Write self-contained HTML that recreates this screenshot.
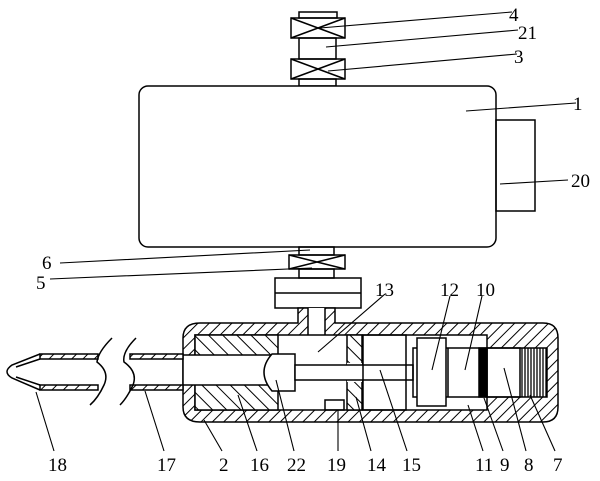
<!DOCTYPE html>
<html><head><meta charset="utf-8"><style>
html,body{margin:0;padding:0;background:#fff;}
svg{display:block;}
text{font-family:"Liberation Serif",serif;font-size:19px;fill:#000;}
</style></head><body>
<svg width="600" height="481" viewBox="0 0 600 481" xmlns="http://www.w3.org/2000/svg">
<defs>
<pattern id="h" patternUnits="userSpaceOnUse" width="8" height="8" patternTransform="rotate(45)">
<rect width="8" height="8" fill="#fff"/><line x1="0" y1="0" x2="0" y2="8" stroke="#000" stroke-width="2"/></pattern>
<pattern id="h2" patternUnits="userSpaceOnUse" width="10" height="10" patternTransform="rotate(-45)">
<rect width="10" height="10" fill="#fff"/><line x1="0" y1="0" x2="0" y2="10" stroke="#000" stroke-width="2"/></pattern>
</defs>
<g fill="none" stroke="#000" stroke-width="1.5">
<!-- top -->
<rect x="299" y="12" width="38" height="6"/>
<rect x="291" y="18" width="54" height="20"/><path d="M291 18L345 38M345 18L291 38"/>
<rect x="299" y="38" width="37" height="21"/>
<rect x="291" y="59" width="54" height="20"/><path d="M291 59L345 79M345 59L291 79"/>
<rect x="299" y="79" width="37" height="7"/>
<rect x="139" y="86" width="357" height="161" rx="9" fill="#fff"/>
<rect x="496" y="120" width="39" height="91"/>
<rect x="299" y="247" width="35" height="8"/>
<rect x="289" y="255" width="56" height="14"/><path d="M289 255L345 269M345 255L289 269"/>
<rect x="299" y="269" width="35" height="9"/>
<rect x="275" y="278" width="86" height="30"/><line x1="275" y1="293" x2="361" y2="293"/>
<!-- housing -->
<path d="M200 323H298V308H335V323H543Q558 323 558 338V407Q558 422 543 422H200Q183 422 183 407V338Q183 323 200 323Z" fill="url(#h)"/>
<rect x="308" y="308" width="17" height="28" fill="#fff" stroke="none"/>
<line x1="308" y1="308" x2="308" y2="335"/><line x1="325" y1="308" x2="325" y2="335"/>
<path d="M195 335H487V348H547V397H487V410H195Z" fill="#fff"/>
<rect x="195" y="335" width="83" height="75" fill="url(#h2)"/>
<rect x="183" y="355" width="96" height="30" fill="#fff"/>
<path d="M272 354H295V391H272Q256 372 272 354Z" fill="#fff"/>
<rect x="347" y="335" width="15" height="75" fill="url(#h2)"/>
<rect x="347" y="363" width="15" height="19" fill="#fff" stroke="none"/>
<rect x="295" y="365" width="118" height="15" fill="#fff"/>
<rect x="363" y="335" width="43" height="75"/>
<rect x="325" y="400" width="19" height="10"/>
<rect x="413" y="348" width="74" height="49"/>
<rect x="417" y="338" width="29" height="68" fill="#fff"/>
<line x1="448" y1="348" x2="448" y2="397"/>
<rect x="479" y="348" width="8" height="49" fill="#000"/>
<rect x="487" y="348" width="33" height="49"/>
<g stroke-width="1.3"><path d="M522 348V397M525 348V397M528 348V397M531 348V397M534 348V397M537 348V397M540 348V397M543 348V397M546 348V397"/></g>
<!-- pipe -->
<path d="M130 354H183V359H130Z M130 385H183V390H130Z M40 354H98V359H40Z M40 385H98V390H40Z" fill="url(#h)"/>
<path d="M40 354L12 365Q2 372 12 378L40 390M40 359L16 367M40 385L16 377"/>
<path d="M112 338Q98 352 97 362Q110 372 104 385Q98 398 90 405"/>
<path d="M136 338Q122 352 124 362Q138 372 133 385Q127 398 120 405"/>
<!-- leaders -->
<g stroke-width="1.1">
<path d="M320 28L512 12M326 47L518 30M328 71L517 54M466 111L576 103M500 184L568 180"/>
<path d="M310 250L60 263M312 268L50 279M318 352L385 294M432 370L450 296M465 370L482 296"/>
<path d="M36 392L54 451M145 391L164 451M204 420L222 451M238 395L257 451M276 380L294 451M338 410L338 451M356 397L371 451M380 370L407 451M468 405L483 451M484 398L503 451M504 368L526 451M530 395L555 451"/>
</g>
</g>
<text x="509" y="21">4</text><text x="518" y="39">21</text><text x="514" y="63">3</text>
<text x="573" y="110">1</text><text x="571" y="187">20</text>
<text x="42" y="269">6</text><text x="36" y="289">5</text>
<text x="375" y="296">13</text><text x="440" y="296">12</text><text x="476" y="296">10</text>
<text x="48" y="471">18</text><text x="157" y="471">17</text><text x="219" y="471">2</text><text x="250" y="471">16</text>
<text x="287" y="471">22</text><text x="327" y="471">19</text><text x="367" y="471">14</text><text x="402" y="471">15</text>
<text x="475" y="471">11</text><text x="500" y="471">9</text><text x="524" y="471">8</text><text x="553" y="471">7</text>
</svg>
</body></html>
